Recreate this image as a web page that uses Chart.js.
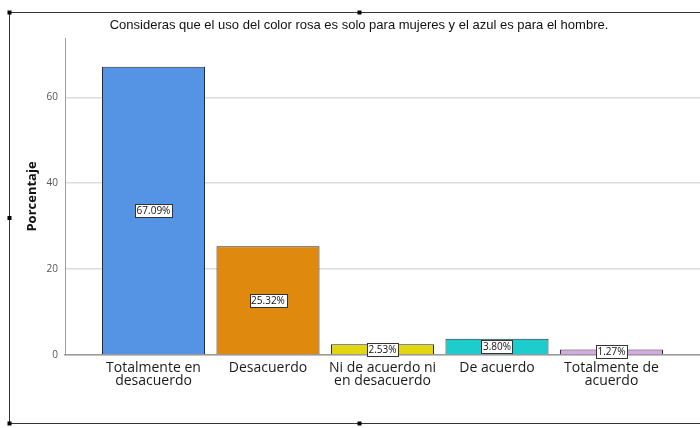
<!DOCTYPE html>
<html><head><meta charset="utf-8">
<script src="https://cdn.jsdelivr.net/npm/chart.js@4/dist/chart.umd.min.js"></script>
<style>html,body{margin:0;padding:0;background:#fff}#wrap{width:700px;height:428px;position:relative}</style>
</head><body><div id="wrap"><canvas id="c" width="700" height="428"></canvas></div>
<script>
const chartTitle = 'Consideras que el uso del color rosa es solo para mujeres y el azul es para el hombre.';
const categories = [['Totalmente en','desacuerdo'],['Desacuerdo'],['Ni de acuerdo ni','en desacuerdo'],['De acuerdo'],['Totalmente de','acuerdo']];
const values = [67.09, 25.32, 2.53, 3.80, 1.27];
const barColors = ['#5593e4','#e0890f','#e2d70e','#1dcdcd','#d5a9e6'];
const yTicks = [0, 20, 40, 60];

const labelPlugin = {
  id: 'valueLabels',
  afterDatasetsDraw(chart) {
    const ctx = chart.ctx;
    const meta = chart.getDatasetMeta(0);
    ctx.save();
    ctx.font = '10px "Open Sans"';
    ctx.textAlign = 'center';
    ctx.textBaseline = 'middle';
    meta.data.forEach((bar, i) => {
      const cy = (bar.y + bar.base) / 2;
      const txt = values[i].toFixed(2) + '%';
      const w = ctx.measureText(txt).width + 3;
      const h = 13;
      const x0 = Math.round(bar.x - w / 2) + 0.5, y0 = Math.round(cy - h / 2) + 0.5;
      ctx.fillStyle = '#fff';
      ctx.fillRect(x0, y0, Math.round(w), h);
      ctx.strokeStyle = '#333';
      ctx.lineWidth = 1;
      ctx.strokeRect(x0, y0, Math.round(w), h);
      ctx.fillStyle = '#111';
      ctx.fillText(txt, bar.x, cy + 0.5);
    });
    ctx.restore();
  }
};

const framePlugin = {
  id: 'frame',
  afterDraw(chart) {
    const ctx = chart.ctx;
    ctx.save();
    ctx.strokeStyle = '#333';
    ctx.lineWidth = 1;
    ctx.beginPath();
    ctx.moveTo(700, 12.5); ctx.lineTo(9.5, 12.5); ctx.lineTo(9.5, 423.5); ctx.lineTo(700, 423.5);
    ctx.stroke();
    ctx.fillStyle = '#000';
    [[9.5,12.5],[359.5,12.5],[9.5,218],[359.5,423.5],[9.5,423.5]].forEach(p => ctx.fillRect(p[0]-2, p[1]-2, 4, 4));
    ctx.restore();
  }
};

new Chart(document.getElementById('c'), {
  type: 'bar',
  data: {
    datasets: [{
      data: values.map((v, i) => ({x: i, y: v})),
      backgroundColor: barColors,
      borderColor: '#2a2a2a',
      borderWidth: 1,
      barPercentage: 0.9,
      categoryPercentage: 1
    }]
  },
  options: {
    responsive: false,
    animation: false,
    devicePixelRatio: 1,
    layout: {padding: {left: 18, right: 0, top: 0, bottom: 0}},
    plugins: {
      legend: {display: false},
      tooltip: {enabled: false},
      title: {
        display: true, text: chartTitle,
        font: {family: '"Liberation Sans", Arial, sans-serif', size: 13, weight: 'normal'},
        color: '#111',
        padding: {top: 18, bottom: 4.4}
      }
    },
    scales: {
      x: {
        type: 'linear', offset: false, min: -0.773, max: 4.773,
        grid: {display: false, drawTicks: false},
        border: {display: true, color: '#9a9a9a', width: 1.5},
        afterBuildTicks(scale) { scale.ticks = categories.map((c, i) => ({value: i})); },
        afterFit(scale) { scale.height = 73; },
        ticks: {
          autoSkip: false, maxRotation: 0, padding: 6,
          color: '#1a1a1a',
          font: {family: '"Open Sans"', size: 14, lineHeight: 0.95},
          callback: (v) => categories[v]
        }
      },
      y: {
        min: 0, max: 73.8,
        afterBuildTicks(scale) { scale.ticks = yTicks.map(v => ({value: v})); },
        afterFit(scale) { scale.width = 47; },
        grid: {color: '#dcdcdc', lineWidth: 1.5, drawTicks: false},
        border: {display: true, color: '#a0a0a0', width: 1},
        ticks: {padding: 7, color: '#555', font: {family: '"Open Sans"', size: 10}},
        title: {
          display: true, text: 'Porcentaje', color: '#111',
          font: {family: '"Open Sans"', size: 13, weight: 'bold'},
          padding: {top: 6, bottom: 0}
        }
      }
    }
  },
  plugins: [labelPlugin, framePlugin]
});
</script></body></html>
